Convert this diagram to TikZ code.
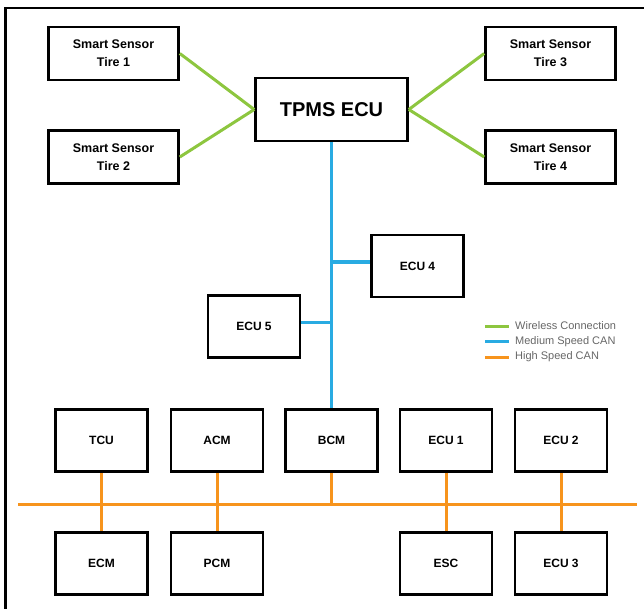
\documentclass[tikz,border=0pt]{standalone}
\usepackage{fontspec}
\setmainfont{Liberation Sans}
\usetikzlibrary{calc}

\definecolor{wirelessgreen}{RGB}{141,198,63}
\definecolor{canblue}{RGB}{41,171,226}
\definecolor{canorange}{RGB}{247,148,29}

\tikzset{
  ecubox/.style={draw, line width=2.6pt, fill=white, font=\bfseries\fontsize{12}{13}\selectfont,
    minimum width=92pt, minimum height=62pt, inner sep=0pt, align=center},
  sensorbox/.style={ecubox, font=\bfseries\fontsize{12.5}{18}\selectfont, minimum width=130pt, minimum height=53pt},
  wireless/.style={wirelessgreen, line width=3pt},
  mediumcan/.style={canblue, line width=3pt},
  highcan/.style={canorange, line width=3pt},
  legendtext/.style={right, inner sep=0pt, text=black!60, font=\fontsize{11}{12}\selectfont}
}

\begin{document}
\begin{tikzpicture}[x=1pt, y=-1pt]
            \useasboundingbox (0,0) rectangle (644,609);
            % frame
            \draw[line width=2.4pt] (5.5,640) -- (5.5,8) -- (660,8);

            % sensors and TPMS
            \node[sensorbox] (tire1) at (113.5,53.5) {Smart Sensor\\Tire 1};
            \node[sensorbox] (tire2) at (113.5,157) {Smart Sensor\\Tire 2};
            \node[sensorbox] (tire3) at (550.5,53.5) {Smart Sensor\\Tire 3};
            \node[sensorbox] (tire4) at (550.5,157) {Smart Sensor\\Tire 4};
            \node[ecubox, minimum width=152pt, minimum height=63pt, font=\bfseries\fontsize{20}{24}\selectfont] (tpms) at (331.5,109.5) {TPMS ECU};

            \draw[wireless] (tire1.east) -- (tpms.west);
            \draw[wireless] (tire2.east) -- (tpms.west);
            \draw[wireless] (tire3.west) -- (tpms.east);
            \draw[wireless] (tire4.west) -- (tpms.east);

            % medium speed CAN
            \node[ecubox] (ecu4) at (417.5,266) {ECU 4};
            \node[ecubox] (ecu5) at (254,326.5) {ECU 5};
            \node[ecubox] (bcm) at (331.5,440.5) {BCM};

            \draw[mediumcan] (tpms.south) -- (bcm.north);
            \draw[mediumcan] ([yshift=4pt]ecu4.west) -- ([yshift=4pt]ecu4.west -| tpms.south);
            \draw[mediumcan] ([yshift=4pt]ecu5.east) -- ([yshift=4pt]ecu5.east -| tpms.south);

            % high speed CAN
            \node[ecubox] (tcu) at (101.5,440.5) {TCU};
            \node[ecubox] (acm) at (217,440.5) {ACM};
            \node[ecubox] (ecu1) at (446,440.5) {ECU 1};
            \node[ecubox] (ecu2) at (561,440.5) {ECU 2};
            \node[ecubox] (ecm) at (101.5,563.5) {ECM};
            \node[ecubox] (pcm) at (217,563.5) {PCM};
            \node[ecubox] (esc) at (446,563.5) {ESC};
            \node[ecubox] (ecu3) at (561,563.5) {ECU 3};

            \coordinate (busL) at (18,504);
            \coordinate (busR) at (637,504);
            \draw[highcan] (busL) -- (busR);
            \draw[highcan] (tcu.south) -- (ecm.north);
            \draw[highcan] (acm.south) -- (pcm.north);
            \draw[highcan] (bcm.south) -- (bcm.south |- busL);
            \draw[highcan] (ecu1.south) -- (esc.north);
            \draw[highcan] (ecu2.south) -- (ecu3.north);

            % legend
            \node[legendtext] (lgwire) at (515,326) {Wireless Connection};
            \node[legendtext] (lgmed) at (515,341.5) {Medium Speed CAN};
            \node[legendtext] (lghigh) at (515,357) {High Speed CAN};
            \draw[wireless] (lgwire.west) ++(-30,0) -- ++(24,0);
            \draw[mediumcan] (lgmed.west) ++(-30,0) -- ++(24,0);
            \draw[highcan] (lghigh.west) ++(-30,0) -- ++(24,0);
        \end{tikzpicture}
\end{document}
